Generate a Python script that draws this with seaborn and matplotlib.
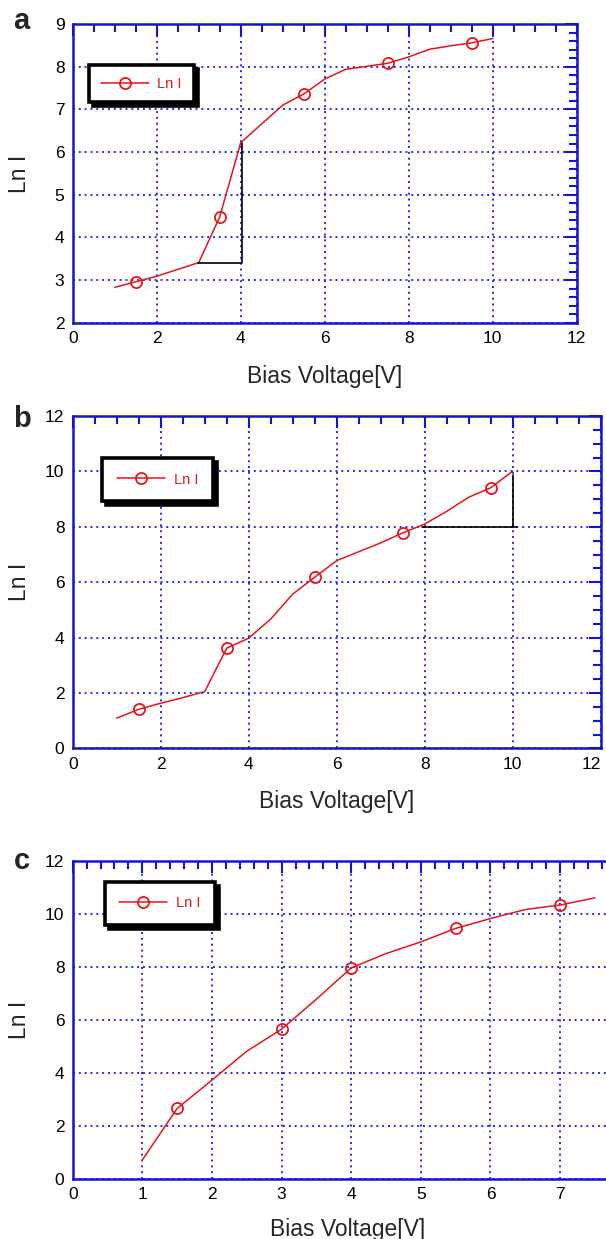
import matplotlib
matplotlib.use("Agg")
import matplotlib.pyplot as plt
import seaborn as sns
from matplotlib.ticker import MultipleLocator

# panel a
a_volts = [1.0, 1.5, 2.0, 2.5, 3.0, 3.5, 4.0, 4.5, 5.0, 5.5, 6.0, 6.5, 7.0, 7.5, 8.0, 8.5, 9.0, 9.5, 10.0]
a_lni = [2.83, 2.96, 3.09, 3.25, 3.41, 4.48, 6.22, 6.66, 7.10, 7.36, 7.71, 7.94, 8.01, 8.08, 8.23, 8.41, 8.49, 8.56, 8.66]
a_marks = [1, 5, 9, 13, 17]
a_tri_x = [2.98, 4.03, 4.03]
a_tri_y = [3.41, 3.41, 6.22]

# panel b
b_volts = [1.0, 1.5, 2.0, 2.5, 3.0, 3.5, 4.0, 4.5, 5.0, 5.5, 6.0, 6.5, 7.0, 7.5, 8.0, 8.5, 9.0, 9.5, 10.0]
b_lni = [1.09, 1.41, 1.63, 1.83, 2.05, 3.62, 3.98, 4.67, 5.57, 6.18, 6.78, 7.10, 7.42, 7.78, 8.10, 8.56, 9.07, 9.41, 10.01]
b_marks = [1, 5, 9, 13, 17]
b_hline_x = [7.93, 10.1]
b_hline_y = [8.0, 8.0]
b_vline_x = [10.0, 10.0]
b_vline_y = [8.0, 9.87]

# panel c
c_volts = [1.0, 1.5, 2.0, 2.5, 3.0, 3.5, 4.0, 4.5, 5.0, 5.5, 6.0, 6.5, 7.0, 7.5]
c_lni = [0.72, 2.66, 3.73, 4.82, 5.65, 6.78, 7.96, 8.50, 8.94, 9.45, 9.82, 10.16, 10.33, 10.60]
c_marks = [1, 4, 6, 9, 12]

RED = "#e8141a"
BLUE = "#1414d2"
GRID = "#2a2ae8"

sns.set_theme(style="white")
plt.rcParams["font.family"] = ["Liberation Sans", "DejaVu Sans"]

fig = plt.figure(figsize=(6.06, 12.39), dpi=100)
ax_a = fig.add_axes([0.12, 0.7395, 0.8317, 0.2411])
ax_b = fig.add_axes([0.12, 0.396, 0.8713, 0.2682])
ax_c = fig.add_axes([0.12, 0.0484, 0.9076, 0.2569])


def draw_panel(ax, x, y, marks, xlim, ylim, xmaj, xmin, ymaj, ymin, leg_xy, leg_pad, xlab_y, ylab_x):
    sns.lineplot(x=x, y=y, ax=ax, color=RED, lw=1.1, marker="o", markevery=marks,
                 markersize=8, markerfacecolor="none", markeredgecolor=RED,
                 markeredgewidth=1.3, label="Ln I")
    ax.set_xlim(*xlim)
    ax.set_ylim(*ylim)
    ax.xaxis.set_major_locator(MultipleLocator(xmaj))
    ax.xaxis.set_minor_locator(MultipleLocator(xmin))
    ax.yaxis.set_major_locator(MultipleLocator(ymaj))
    ax.yaxis.set_minor_locator(MultipleLocator(ymin))
    ax.grid(which="major", color=GRID, linestyle=(0, (1, 2.0)), lw=1.4)
    for sp in ax.spines.values():
        sp.set_color(BLUE)
        sp.set_linewidth(1.8)
    ax.tick_params(which="both", direction="in", top=True, right=True,
                   color=BLUE, width=1.5, labelsize=12.5, labelcolor="black", pad=6)
    ax.tick_params(which="major", length=8.5)
    ax.tick_params(which="minor", length=5.5)
    ax.set_xlabel("Bias Voltage[V]", fontsize=16.5)
    ax.set_ylabel("Ln I", fontsize=16.5)
    ax.xaxis.set_label_coords(0.5, xlab_y)
    ax.yaxis.set_label_coords(ylab_x, 0.5)
    leg = ax.legend(loc="upper left", bbox_to_anchor=leg_xy, borderaxespad=0,
                    fontsize=10.5, handlelength=3.3, handletextpad=0.6,
                    borderpad=leg_pad, fancybox=False, framealpha=1,
                    edgecolor="black", labelcolor=RED,
                    shadow={"ox": 3, "oy": -3, "color": "black", "alpha": 1})
    leg.get_frame().set_linewidth(2.6)


draw_panel(ax_a, a_volts, a_lni, a_marks, (0, 12), (2, 9), 2, 0.5, 1, 0.2,
           (0.032, 0.863), 0.8, -0.1416, -0.083)
ax_a.plot(a_tri_x, a_tri_y, color="black", lw=1.2)

draw_panel(ax_b, b_volts, b_lni, b_marks, (0, 12), (0, 12), 2, 0.5, 2, 0.5,
           (0.056, 0.874), 1.0, -0.1255, -0.079)
ax_b.plot(b_hline_x, b_hline_y, color="black", lw=1.2)
ax_b.plot(b_vline_x, b_vline_y, color="black", lw=1.2)

draw_panel(ax_c, c_volts, c_lni, c_marks, (0, 7.9), (0, 12), 1, 0.2, 2, 0.5,
           (0.058, 0.934), 1.0, -0.1225, -0.076)

# keep the last x tick label of panel b inside the figure
fig.canvas.draw()
for tick in ax_b.xaxis.get_major_ticks():
    if abs(tick.get_loc() - 12) < 1e-6:
        tick.label1.set_horizontalalignment("right")

for letter, yb in [("a", 0.9766), ("b", 0.6554), ("c", 0.2986)]:
    fig.text(13.5 / 606, yb, letter, fontsize=21, fontweight="bold", va="baseline", ha="left")

fig.savefig("out.png", dpi=100)
